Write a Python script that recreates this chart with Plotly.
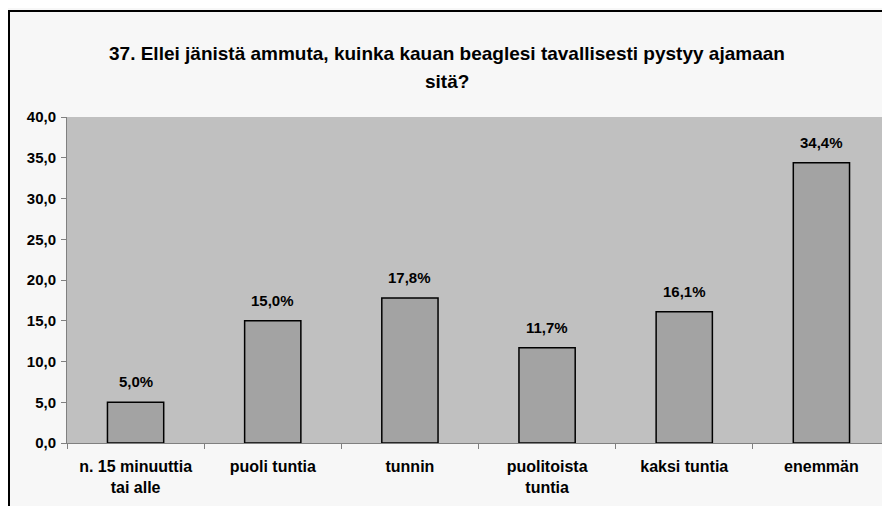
import plotly.graph_objects as go

categories = ["n. 15 minuuttia<br>tai alle", "puoli tuntia", "tunnin",
              "puolitoista<br>tuntia", "kaksi tuntia", "enemmän"]
values = [5.0, 15.0, 17.8, 11.7, 16.1, 34.4]
y_ticks = [0, 5, 10, 15, 20, 25, 30, 35, 40]
title_line1 = "37. Ellei jänistä ammuta, kuinka kauan beaglesi tavallisesti pystyy ajamaan"
title_line2 = "sitä?"

labels = [f"{v:.1f}%".replace(".", ",") for v in values]

FONT = "Liberation Sans, Arial, sans-serif"

# page has an 8px body margin; figure is sized/offset to compensate
W, H = 882, 498
L, T, B = 59, 109, 63
PW, PH = W - L, H - T - B


def px(xpage):
    return (xpage - 8 - L) / PW


def py(ypage):
    return (H - B - (ypage - 8)) / PH


fig = go.Figure(go.Bar(
    x=categories, y=values,
    marker=dict(color="#A3A3A3", line=dict(color="black", width=1.5)),
    width=0.41, hoverinfo="skip",
))

annotations = [
    dict(text="<b>" + title_line1 + "</b>", xref="paper", yref="paper",
         x=px(447), y=py(53), xanchor="center", yanchor="middle",
         showarrow=False, font=dict(family=FONT, size=19, color="black")),
    dict(text="<b>" + title_line2 + "</b>", xref="paper", yref="paper",
         x=px(447), y=py(82), xanchor="center", yanchor="middle",
         showarrow=False, font=dict(family=FONT, size=19, color="black")),
]
for c, v, lab in zip(categories, values, labels):
    annotations.append(dict(
        text="<b>" + lab + "</b>", x=c, y=v, xref="x", yref="y",
        xanchor="center", yanchor="bottom", yshift=10, showarrow=False,
        font=dict(family=FONT, size=15, color="black"),
    ))

fig.update_layout(
    width=W, height=H,
    margin=dict(l=L, r=0, t=T, b=B),
    paper_bgcolor="#F7F7F7", plot_bgcolor="#C0C0C0",
    showlegend=False,
    font=dict(family=FONT, size=15, color="black"),
    annotations=annotations,
    shapes=[dict(type="rect", xref="paper", yref="paper",
                 x0=px(9), x1=1.05, y0=-0.3, y1=py(11),
                 line=dict(color="black", width=2), fillcolor="rgba(0,0,0,0)",
                 layer="below")],
)

fig.update_xaxes(
    showgrid=False, showline=True, linecolor="#808080", linewidth=1,
    ticks="outside", tickson="boundaries", ticklen=5, tickcolor="#808080",
    tickfont=dict(family=FONT, size=16, color="black"),
    tickvals=categories, ticklabelstandoff=9,
    ticktext=["<b>" + c.replace("<br>", "</b><br><b>") + "</b>" for c in categories],
)
fig.update_yaxes(
    range=[0, 40], tickvals=y_ticks, showgrid=False,
    ticktext=["<b>" + f"{v:.1f}".replace(".", ",") + "</b>" for v in y_ticks],
    showline=True, linecolor="#808080", linewidth=1,
    ticks="outside", ticklen=5, tickcolor="#808080", ticklabelstandoff=2,
    tickfont=dict(family=FONT, size=15, color="black"), zeroline=False,
)

fig.write_html("out.html")
